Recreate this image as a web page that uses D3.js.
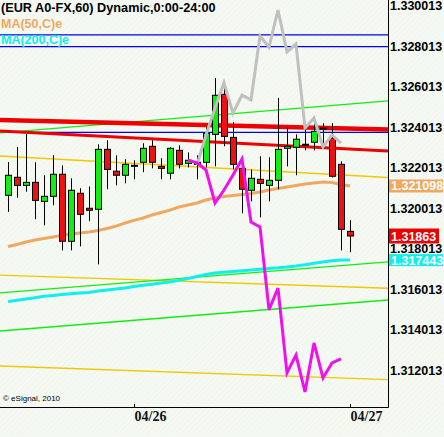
<!DOCTYPE html>
<html><head><meta charset="utf-8">
<script src="https://cdn.jsdelivr.net/npm/d3@7"></script>
<style>body{margin:0;background:#f3f8f1;overflow:hidden} svg{display:block}</style>
</head><body>
<svg id="c" width="444" height="437"></svg>
<script>
// ---------------- DATA ----------------
const opens  = [1.32064,1.32153,1.32113,1.32128,1.32034,1.32059,1.32168,1.31837,1.32074,1.32000,1.31995,1.32291,1.32183,1.32163,1.32212,1.32227,1.32306,1.32207,1.32173,1.32286,1.32222,1.32227,1.32227,1.32365,1.32563,1.32350,1.32197,1.32089,1.32143,1.32113,1.32138,1.32296,1.32301,1.32316,1.32326,1.32391,1.32346,1.32217,1.31886];
const highs  = [1.32228,1.32303,1.32367,1.32227,1.32163,1.32262,1.32212,1.32148,1.32099,1.32108,1.32316,1.32336,1.32262,1.32242,1.32237,1.32321,1.32336,1.32247,1.32301,1.32311,1.32276,1.32262,1.32400,1.32643,1.32602,1.32425,1.32227,1.32192,1.32257,1.32252,1.32545,1.32400,1.32365,1.32411,1.32444,1.32420,1.32420,1.32232,1.31941];
const lows   = [1.31982,1.32052,1.32082,1.31946,1.31916,1.32015,1.31792,1.31792,1.31812,1.31936,1.31723,1.32094,1.32113,1.32123,1.32143,1.32178,1.32197,1.32143,1.32143,1.32197,1.32202,1.32143,1.32202,1.32207,1.32306,1.32192,1.31975,1.32034,1.31955,1.32034,1.32094,1.32207,1.32163,1.32286,1.32286,1.32321,1.32152,1.31792,1.31783];
const closes = [1.32163,1.32113,1.32128,1.32039,1.32059,1.32168,1.31837,1.32089,1.31970,1.31990,1.32291,1.32192,1.32163,1.32217,1.32212,1.32296,1.32227,1.32197,1.32296,1.32217,1.32237,1.32217,1.32370,1.32558,1.32355,1.32217,1.32094,1.32148,1.32123,1.32138,1.32291,1.32306,1.32341,1.32316,1.32380,1.32396,1.32158,1.31896,1.31863];

const ma50  = [1.31811,1.31821,1.31833,1.31843,1.31851,1.31858,1.31866,1.31873,1.31878,1.31883,1.31890,1.31900,1.31912,1.31927,1.31940,1.31952,1.31967,1.31979,1.31991,1.32006,1.32016,1.32026,1.32041,1.32051,1.32058,1.32063,1.32068,1.32073,1.32080,1.32090,1.32098,1.32105,1.32112,1.32120,1.32125,1.32130,1.32127,1.32117,1.32110];
const ma200 = [1.31539,1.31546,1.31552,1.31558,1.31565,1.31569,1.31574,1.31578,1.31582,1.31584,1.31591,1.31596,1.31601,1.31606,1.31614,1.31620,1.31625,1.31631,1.31636,1.31644,1.31653,1.31663,1.31673,1.31680,1.31684,1.31688,1.31692,1.31695,1.31699,1.31703,1.31706,1.31710,1.31715,1.31721,1.31728,1.31735,1.31741,1.31744,1.31744];

const grayStart = 21;
const grayLine  = [1.32214,1.32362,1.32495,1.32619,1.32470,1.32559,1.32535,1.32851,1.32796,1.32979,1.32772,1.32811,1.32396,1.32446,1.32303,1.32362,1.32322];
const magentaStart = 20;
const magentaLine  = [1.32238,1.32224,1.32189,1.32026,1.32090,1.32164,1.32243,1.31932,1.31908,1.31498,1.31606,1.31187,1.31275,1.31093,1.31335,1.31162,1.31236,1.31256];

// trend / level lines: [startIndex, startValue, endIndex, endValue]
const greenLines  = [[-0.89,1.32372,42.22,1.32530],[-0.89,1.31582,42.22,1.31735],[-0.89,1.31394,42.22,1.31547]];
const yellowLines = [[-0.89,1.32258,42.22,1.32152],[-0.89,1.31670,42.22,1.31605],[-0.89,1.31221,42.22,1.31154]];
const blueLines   = [[-0.89,1.32856,42.22,1.32856],[-0.89,1.32798,42.22,1.32798],[0,1.32375,42.22,1.32375]];
const redThick    = [-0.89,1.32436,42.22,1.32389];
const redThin     = [-0.89,1.32382,42.22,1.32283];

const yTicks = [1.330013,1.328013,1.326013,1.324013,1.322013,1.320013,1.318013,1.316013,1.314013,1.312013];
const dateLabels = ["04/26","04/27"];
const dateIndex  = [14,38];
const titleText = "(EUR A0-FX,60) Dynamic,0:00-24:00";
const legendTexts = ["MA(50,C)e","MA(200,C)e"];
const lastValues = {ma50:"1.321098", close:"1.31863", ma200:"1.317443"};

// ---------------- DRAW ----------------
const svg = d3.select("#c");
const plotR = 388, plotB = 407;
const x = d3.scaleLinear().domain([0,38]).range([8,350]);
const y = d3.scaleLinear().domain([1.312013,1.330013]).range([370,5.5]);

const defs = svg.append("defs");
const pat = defs.append("pattern").attr("id","hatch").attr("width",4).attr("height",4)
  .attr("patternUnits","userSpaceOnUse").attr("patternTransform","rotate(45)");
pat.append("rect").attr("width",4).attr("height",4).attr("fill","#f2f7f0");
pat.append("rect").attr("width",1).attr("height",4).attr("fill","#f7faf5");
svg.append("rect").attr("width",444).attr("height",437).attr("fill","url(#hatch)");

const clip = defs.append("clipPath").attr("id","plot");
clip.append("rect").attr("x",0).attr("y",0).attr("width",plotR).attr("height",plotB);
const g = svg.append("g").attr("clip-path","url(#plot)");

function seg(sel, d, color, w){
  sel.append("line").attr("x1",x(d[0])).attr("y1",y(d[1])).attr("x2",x(d[2])).attr("y2",y(d[3]))
    .attr("stroke",color).attr("stroke-width",w);
}
yellowLines.forEach(d=>seg(g,d,"#f0c800",1.3));
greenLines.forEach(d=>seg(g,d,"#11ee11",1.3));
blueLines.forEach(d=>seg(g,d,"#0000ee",1.3));
seg(g, redThin, "#ee0000", 3);
seg(g, redThick, "#ee0000", 4.5);

const line = d3.line().x(d=>x(d[0])).y(d=>y(d[1]));
g.append("path").datum(ma200.map((v,i)=>[i,v])).attr("d",line)
  .attr("fill","none").attr("stroke","#11eeee").attr("stroke-width",3);
g.append("path").datum(ma50.map((v,i)=>[i,v])).attr("d",line)
  .attr("fill","none").attr("stroke","#f0a860").attr("stroke-width",3);

// candles
const candles = opens.map((o,i)=>({i,o,h:highs[i],l:lows[i],c:closes[i]}));
const cg = g.append("g");
cg.selectAll("line.w").data(candles).join("line").attr("class","w")
  .attr("x1",d=>x(d.i)+0.5).attr("x2",d=>x(d.i)+0.5)
  .attr("y1",d=>y(d.h)).attr("y2",d=>y(d.l)).attr("stroke","#000").attr("stroke-width",1);
cg.selectAll("rect").data(candles).join("rect")
  .attr("x",d=>x(d.i)-2.5).attr("width",6)
  .attr("y",d=>Math.min(y(d.o),y(d.c)))
  .attr("height",d=>Math.max(1,Math.abs(y(d.o)-y(d.c))))
  .attr("fill",d=>d.c>=d.o?"#11ee11":"#ee1111")
  .attr("stroke","#000").attr("stroke-width",1)
  .attr("fill-opacity",d=>Math.abs(y(d.o)-y(d.c))<1?0:1);

g.append("path").datum(grayLine.map((v,i)=>[i+grayStart,v])).attr("d",line)
  .attr("fill","none").attr("stroke","#c0c0c0").attr("stroke-width",3);
g.append("path").datum(magentaLine.map((v,i)=>[i+magentaStart,v])).attr("d",line)
  .attr("fill","none").attr("stroke","#ee11ee").attr("stroke-width",3);

// axes
svg.append("line").attr("x1",plotR+0.5).attr("x2",plotR+0.5).attr("y1",0).attr("y2",plotB+0.5).attr("stroke","#000");
svg.append("line").attr("x1",0).attr("x2",plotR+0.5).attr("y1",plotB+0.5).attr("y2",plotB+0.5).attr("stroke","#000");

const yAxis = d3.axisRight(y).tickValues(yTicks).tickSize(0).tickPadding(2).tickFormat(d3.format(".6f"));
const ya = svg.append("g").attr("transform",`translate(${plotR},0)`).call(yAxis);
ya.select(".domain").remove();
ya.selectAll("text").attr("font-family","Liberation Sans, Arial, sans-serif").attr("font-weight","bold")
  .attr("font-size",12.5).attr("fill","#000");

const xAxis = d3.axisBottom(x).tickValues(dateIndex).tickSize(3).tickFormat((d,i)=>dateLabels[i]);
const xa = svg.append("g").attr("transform",`translate(0,${plotB})`).call(xAxis);
xa.select(".domain").remove();
xa.selectAll("line").attr("stroke","#000").attr("y2",-3);
xa.selectAll("text").attr("text-anchor","start").attr("dy",0).attr("y",14)
  .attr("font-family","Liberation Serif, Times New Roman, serif").attr("font-weight","bold")
  .attr("font-size",14).attr("fill","#111");

// value boxes
function box(v, txt, bg, h){
  const yy = y(v);
  svg.append("rect").attr("x",389).attr("y",yy-h/2).attr("width",txt.length>7?54:50).attr("height",h).attr("fill",bg);
  svg.append("text").attr("x",391).attr("y",yy+4.5).text(txt)
    .attr("font-family","Liberation Sans, Arial, sans-serif").attr("font-weight","bold").attr("font-size",12.5).attr("fill","#fff");
}
box(ma50[38], lastValues.ma50, "#f0a860", 13);
box(closes[38], lastValues.close, "#ee0000", 15);
box(ma200[38], lastValues.ma200, "#11eeee", 12);

// title & legend
svg.append("text").attr("x",1).attr("y",12).text(titleText)
  .attr("font-family","Liberation Sans, Arial, sans-serif").attr("font-weight","bold").attr("font-size",12.7).attr("fill","#000");
svg.append("text").attr("x",1).attr("y",28).text(legendTexts[0])
  .attr("font-family","Liberation Sans, Arial, sans-serif").attr("font-weight","bold").attr("font-size",12.5).attr("fill","#f0a860");
svg.append("text").attr("x",1).attr("y",44).text(legendTexts[1])
  .attr("font-family","Liberation Sans, Arial, sans-serif").attr("font-weight","bold").attr("font-size",12.5).attr("fill","#11eeee");

svg.append("text").attr("x",3).attr("y",401).text("\u00a9 eSignal, 2010")
  .attr("font-family","Liberation Sans, Arial, sans-serif").attr("font-size",8).attr("fill","#000");
</script>
</body></html>
